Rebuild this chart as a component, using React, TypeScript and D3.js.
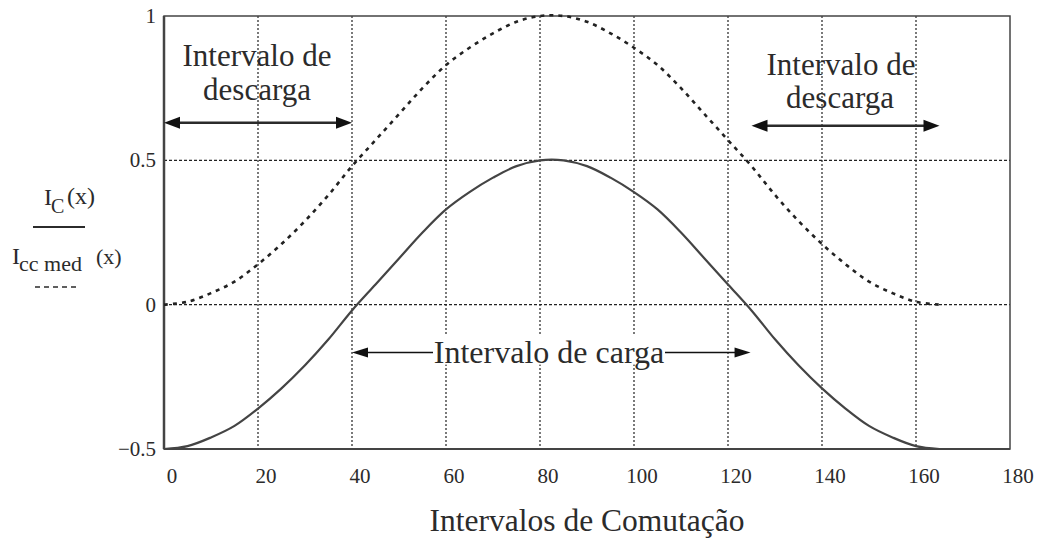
import React from "react";
import * as d3 from "d3";

// switching intervals (x) and the two curves
const xs = [0, 5, 10, 15, 20, 25, 30, 35, 40, 45, 50, 55, 60, 65, 70, 75, 80, 85, 90, 95, 100, 105, 110, 115, 120, 125, 130, 135, 140, 145, 150, 155, 160, 165];
const icNorm = [-0.5, -0.49, -0.46, -0.42, -0.36, -0.29, -0.21, -0.12, -0.02, 0.07, 0.16, 0.25, 0.33, 0.39, 0.44, 0.48, 0.5, 0.5, 0.48, 0.44, 0.39, 0.33, 0.25, 0.16, 0.07, -0.02, -0.12, -0.21, -0.29, -0.36, -0.42, -0.46, -0.49, -0.5];
const iccMed = [0, 0.01, 0.04, 0.08, 0.14, 0.21, 0.29, 0.38, 0.48, 0.57, 0.66, 0.75, 0.83, 0.89, 0.94, 0.98, 1, 1, 0.98, 0.94, 0.89, 0.83, 0.75, 0.66, 0.57, 0.48, 0.38, 0.29, 0.21, 0.14, 0.08, 0.04, 0.01, 0];

const xTicks = [0, 20, 40, 60, 80, 100, 120, 140, 160, 180];
const yTicks = [1, 0.5, 0, -0.5];
const yTickLabels = ["1", "0.5", "0", "\u22120.5"];
const vGrid = [20, 40, 60, 80, 100, 120, 140, 160];
const hGrid = [0.5, 0];

// double arrows: [x from, x to, y]
const descargaLeft = [0, 40, 0.63];
const descargaRight = [125, 165, 0.62];
const cargaArrow = [40, 124.8, -0.166];

const FONT = "'Liberation Serif', 'Times New Roman', serif";
const INK = "#2b2b2b";

export default function App() {
  const width = 1043;
  const height = 541;
  const margin = { top: 16, right: 33, bottom: 92, left: 164 };

  const x = d3.scaleLinear().domain([0, 180]).range([margin.left, width - margin.right]);
  const y = d3.scaleLinear().domain([-0.5, 1]).range([height - margin.bottom, margin.top]);

  const line = d3
    .line<number>()
    .x((_, i) => x(xs[i]))
    .y((d) => y(d))
    .curve(d3.curveCatmullRom);

  const arrowHead = (px: number, py: number, dir: number, len: number, half: number) =>
    `M${px},${py} L${px - dir * len},${py - half} L${px - dir * len},${py + half} Z`;

  const bigArrow = (a: number[]) => {
    const x0 = x(a[0]);
    const x1 = x(a[1]);
    const yy = y(a[2]);
    return (
      <g>
        <line x1={x0 + 10} x2={x1 - 10} y1={yy} y2={yy} stroke={INK} strokeWidth={2.5} />
        <path d={arrowHead(x0, yy, -1, 16, 6)} fill="#111" />
        <path d={arrowHead(x1, yy, 1, 16, 6)} fill="#111" />
      </g>
    );
  };

  const x0c = x(cargaArrow[0]);
  const x1c = x(cargaArrow[1]);
  const yc = y(cargaArrow[2]);

  return (
    <svg width={width} height={height} style={{ position: "absolute", left: 0, top: 0, background: "#fff" }}>
      {/* grid */}
      {vGrid.map((v) => (
        <line key={"v" + v} x1={x(v)} x2={x(v)} y1={y(1)} y2={y(-0.5)} stroke="#222" strokeWidth={1.2} strokeDasharray="2 2" />
      ))}
      {hGrid.map((v) => (
        <line key={"h" + v} x1={x(0)} x2={x(180)} y1={y(v)} y2={y(v)} stroke="#222" strokeWidth={1.2} strokeDasharray="3 2" />
      ))}

      {/* frame */}
      <rect x={x(0)} y={y(1)} width={x(180) - x(0)} height={y(-0.5) - y(1)} fill="none" stroke="#444" strokeWidth={1.5} />
      <line x1={x(0)} x2={x(0)} y1={y(1)} y2={y(-0.5)} stroke="#444" strokeWidth={2.5} />
      <line x1={x(0)} x2={x(180)} y1={y(-0.5)} y2={y(-0.5)} stroke="#444" strokeWidth={2} />

      {/* curves */}
      <path d={line(iccMed) || ""} fill="none" stroke="#222" strokeWidth={2.6} strokeDasharray="4 5" />
      <path d={line(icNorm) || ""} fill="none" stroke="#444" strokeWidth={2.2} />

      {/* tick labels */}
      {xTicks.map((t) => (
        <text key={"xt" + t} x={x(t) + 8} y={483} textAnchor="middle" fontFamily={FONT} fontSize={21} fill={INK}>
          {t}
        </text>
      ))}
      {yTicks.map((t, i) => (
        <text key={"yt" + t} x={156} y={y(t) + 7} textAnchor="end" fontFamily={FONT} fontSize={21} fill={INK}>
          {yTickLabels[i]}
        </text>
      ))}

      {/* axis title */}
      <text x={587} y={531} textAnchor="middle" fontFamily={FONT} fontSize={31.5} fill={INK}>
        Intervalos de Comutação
      </text>

      {/* y label as fraction */}
      <g fontFamily={FONT} fill={INK}>
        <text x={44} y={205} fontSize={24}>I</text>
        <text x={51} y={213} fontSize={20}>C</text>
        <text x={67} y={204} fontSize={24}>(x)</text>
        <line x1={33} x2={85} y1={227} y2={227} stroke={INK} strokeWidth={2} />
        <text x={12} y={264} fontSize={24}>I</text>
        <text x={19} y={271} fontSize={22}>cc med</text>
        <text x={96} y={264} fontSize={22}>(x)</text>
        <line x1={35} x2={77} y1={287} y2={287} stroke={INK} strokeWidth={1.5} strokeDasharray="5 4" />
      </g>

      {/* descarga annotations */}
      <g fontFamily={FONT} fontSize={31} fill={INK} textAnchor="middle">
        <text x={257} y={66}>Intervalo de</text>
        <text x={257} y={100}>descarga</text>
        <text x={841} y={75}>Intervalo de</text>
        <text x={840} y={108}>descarga</text>
      </g>
      {bigArrow(descargaLeft)}
      {bigArrow(descargaRight)}

      {/* carga arrow */}
      <line x1={x0c + 8} x2={x1c - 8} y1={yc} y2={yc} stroke="#111" strokeWidth={1.5} />
      <path d={arrowHead(x0c, yc, -1, 16, 5)} fill="#111" />
      <path d={arrowHead(x1c, yc, 1, 16, 5)} fill="#111" />
      <rect x={433} y={yc - 18} width={232} height={30} fill="#fff" />
      <text x={549} y={yc + 10} textAnchor="middle" fontFamily={FONT} fontSize={32} fill={INK}>
        Intervalo de carga
      </text>
    </svg>
  );
}
